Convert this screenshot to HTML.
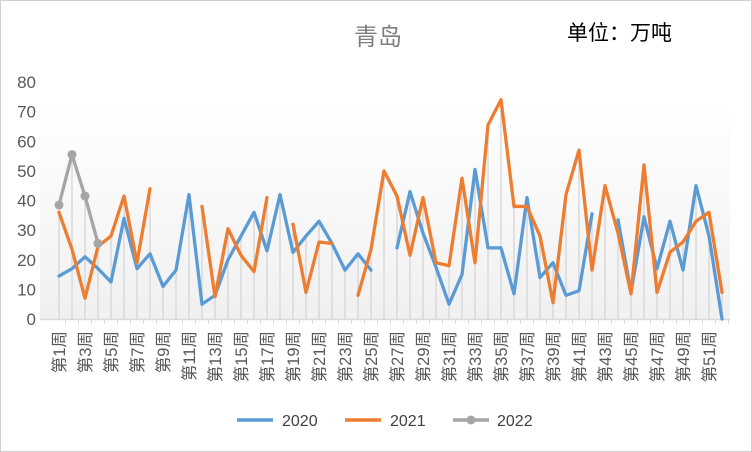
<!DOCTYPE html>
<html><head><meta charset="utf-8">
<style>
html,body{margin:0;padding:0;background:#fff;}
svg{display:block;font-family:"Liberation Sans","Noto Sans CJK SC",sans-serif;}
</style></head>
<body>
<svg id="chart" width="752" height="452" viewBox="0 0 752 452">
<defs>
<linearGradient id="bg" x1="0" y1="0" x2="0" y2="1">
<stop offset="0" stop-color="#ffffff"/><stop offset="1" stop-color="#f0f0f0"/>
</linearGradient>
</defs>
<rect x="0.5" y="0.5" width="751" height="451" fill="#fff" stroke="#d0d0d0"/>
<rect x="40" y="105" width="690" height="214" fill="url(#bg)"/>
<text x="378" y="45" text-anchor="middle" font-size="24" fill="#7f7f7f">青岛</text>
<text x="567" y="40" font-size="21" fill="#000">单位：万吨</text>
<g id="yaxis"></g>
<g id="drops"></g>
<line x1="40" y1="319.5" x2="730" y2="319.5" stroke="#d9d9d9" stroke-width="1.5"/>
<g id="xaxis"></g>
<g id="series"></g>
<g>
<g><line x1="237" y1="420" x2="273" y2="420" stroke="#5b9bd5" stroke-width="3.5"/><text x="282" y="426" font-size="16" fill="#404040">2020</text></g>
<g><line x1="345" y1="420" x2="381" y2="420" stroke="#ed7d31" stroke-width="3.5"/><text x="390" y="426" font-size="16" fill="#404040">2021</text></g>
<g><line x1="453" y1="420" x2="489" y2="420" stroke="#a5a5a5" stroke-width="3.5"/><circle cx="471" cy="420" r="4.5" fill="#a5a5a5"/><text x="497" y="426" font-size="16" fill="#404040">2022</text></g>
</g>
</svg>
<script>
const weeks = Array.from({length:52},(_,i)=>'第'+(i+1)+'周');
const yTicks = [0,10,20,30,40,50,60,70,80];
const s2020 = [14.5,17,21,17,12.5,34,17,22,11,16.5,42,5,8,20,28,36,23,42,22.5,28,33,25.5,16.5,22,16.5,null,24,43,29,17.5,5,15,50.5,24,24,8.5,41,14,19,8,9.5,35.5,null,33.5,9,34.5,17,33,16.5,45,28,0];
const s2021 = [36,23.5,7,24.5,28,41.5,19,44,null,null,null,38,7.5,30.5,21.5,16,41,null,32,9,26,25.5,null,8,23.5,50,41.5,21.5,41,19,18,47.5,19,65.5,74,38,38,28,5.5,42,57,16.5,45,29,8.5,52,9,22.5,26,33,36,9];
const s2022 = [38.5,55.5,41.5,25.5];
const NS='http://www.w3.org/2000/svg';
const X0=59, XS=13.0, Y0=319, YS=237/80;
function xPos(i){return X0+XS*i;}
function yPos(v){return Y0-v*YS;}
function mk(tag,attrs,parent){const e=document.createElementNS(NS,tag);for(const k in attrs)e.setAttribute(k,attrs[k]);parent.appendChild(e);return e;}
const ya=document.getElementById('yaxis');
yTicks.forEach(t=>{
  const tx=mk('text',{x:36,y:yPos(t)+6,'text-anchor':'end','font-size':17,fill:'#595959'},ya);
  tx.textContent=t;
  
  
});
const dr=document.getElementById('drops');
weeks.forEach((w,i)=>{
  const vals=[s2020[i],s2021[i],s2022[i]].filter(v=>v!=null&&v!==undefined);
  if(!vals.length)return;
  const m=Math.max(...vals);
  const l=mk('line',{x1:xPos(i),x2:xPos(i),y1:yPos(m),y2:Y0,stroke:'#d9d9d9','stroke-width':1.5},dr);
  
  
});
const xa=document.getElementById('xaxis');
weeks.forEach((w,i)=>{
  const tk=mk('line',{x1:xPos(i)+XS/2,x2:xPos(i)+XS/2,y1:Y0,y2:Y0+5,stroke:'#d9d9d9'},xa);
  
  
  if(i%2===0){
    const x=xPos(i)+6, y=331;
    const t=mk('text',{x:x,y:y,'text-anchor':'end','font-size':16.5,fill:'#595959',transform:`rotate(-90 ${x} ${y})`},xa);
    t.textContent=w;
    
    
  }
});
const sg=document.getElementById('series');
function drawLine(arr,color,name,markers){
  const g=mk('g',{},sg);
  
  
  let seg=[];
  const flush=()=>{if(seg.length>1){const p=mk('polyline',{points:seg.join(' '),fill:'none',stroke:color,'stroke-width':3.3,'stroke-linejoin':'round','stroke-linecap':'round'},g);}seg=[];};
  arr.forEach((v,i)=>{if(v==null){flush();}else seg.push(xPos(i)+','+yPos(v));});
  flush();
  if(markers){arr.forEach((v,i)=>{if(v==null)return;const c=mk('circle',{cx:xPos(i),cy:yPos(v),r:4.5,fill:color},g);});}
}
drawLine(s2020,'#5b9bd5','series-2020',false);
drawLine(s2021,'#ed7d31','series-2021',false);
drawLine(s2022,'#a5a5a5','series-2022',true);
</script>
</body></html>
